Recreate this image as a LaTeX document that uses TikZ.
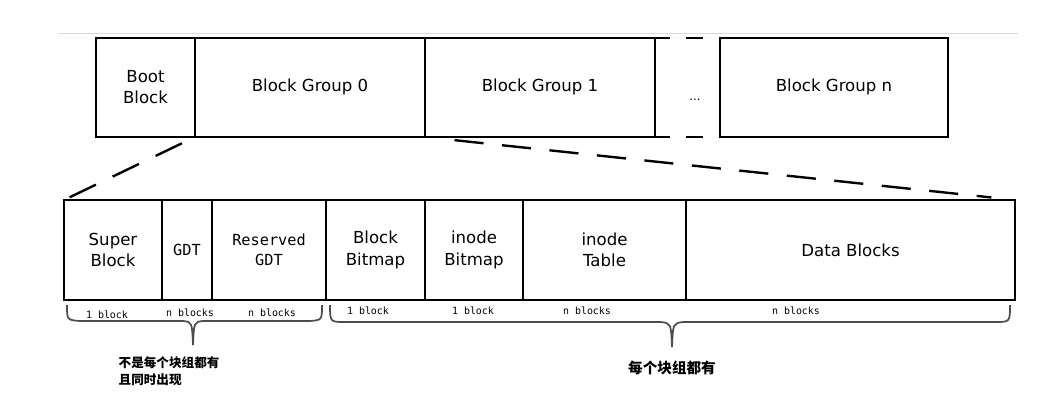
\documentclass[tikz,border=0pt]{standalone}
\usepackage{fontspec}
\usetikzlibrary{calc}
\setmainfont{DejaVu Sans}
\setmonofont{DejaVu Sans Mono}
\newfontfamily\cjk{Noto Sans CJK SC}
\begin{document}
\begin{tikzpicture}[x=0.0265cm,y=-0.0265cm,
  box/.style={draw,line width=1.6pt,minimum height=0} ,
  lbl/.style={font=\fontsize{12.5}{16}\selectfont,align=center},
  sz/.style={font=\ttfamily\fontsize{7.5}{8}\selectfont,anchor=base},
  dsh/.style={line width=1.8pt,dash pattern=on 22pt off 14pt},
  br/.style={line width=1.3pt,draw=black!70}]
\useasboundingbox (0,0) rectangle (1052,401);
\draw[black!15,line width=0.6pt] (58,33) -- (1018,33);
% top row
\foreach \n/\a/\b in {boot/96/195,bg0/195/425,bg1/425/655,bgn/720/948}{
  \draw[box] (\a,38) rectangle (\b,137);
  \coordinate (\n) at ({(\a+\b)/2},87);}
\node[lbl] at (boot) {Boot\\Block};
\node[lbl] at (bg0) {Block Group 0};
\node[lbl] at (bg1) {Block Group 1};
\node[lbl] at (bgn) {Block Group n};
\draw[line width=1.6pt] (655,38) -- (670,38) (655,137) -- (670,137);
\draw[line width=1.6pt] (686,38) -- (703,38) (686,137) -- (703,137);
\node[font=\fontsize{9}{9}\selectfont] (dots) at (695,100) {...};
% bottom row
\foreach \n/\a/\b in {sb/64/162,gdt/162/212,rg/212/326,bb/326/425,ib/425/523,it/523/686,db/686/1015}{
  \draw[box] (\a,200) rectangle (\b,300);
  \coordinate (\n) at ({(\a+\b)/2},250);}
\node[lbl] at (sb) {Super\\Block};
\node[font=\ttfamily\fontsize{11.5}{15}\selectfont,align=center] at (gdt) {GDT};
\node[font=\ttfamily\fontsize{11.5}{15}\selectfont,align=center] at (rg) {Reserved\\GDT};
\node[lbl] at (bb) {Block\\Bitmap};
\node[lbl] at (ib) {inode\\Bitmap};
\node[lbl] at (it) {inode\\Table};
\node[lbl] at (db) {Data Blocks};
% zoom lines
\coordinate (z1) at (195,137); \coordinate (z2) at (64,200);
\coordinate (z3) at (425,137); \coordinate (z4) at (1015,200);
\draw[dsh] ($(z1)!0.1!(z2)$) -- (z2);
\draw[dsh] ($(z3)!0.05!(z4)$) -- ($(z3)!0.96!(z4)$);
% size labels
\node[sz] at (107,318) {1 block};
\node[sz] at (190,316) {n blocks};
\node[sz] at (272,316) {n blocks};
\node[sz] at (368,314) {1 block};
\node[sz] at (473,314) {1 block};
\node[sz] at (587,314) {n blocks};
\node[sz] at (796,314) {n blocks};
% braces
\draw[br] (67,305) .. controls (67,320) .. (80,321) -- (183,321) .. controls (192,322) .. (193,345);
\draw[br] (193,345) .. controls (194,322) .. (203,321) -- (310,321) .. controls (322,320) .. (322,305);
\draw[br] (330,305) .. controls (330,322) .. (345,322) -- (660,322) .. controls (671,323) .. (672,347);
\draw[br] (672,347) .. controls (673,323) .. (684,322) -- (995,322) .. controls (1010,322) .. (1010,305);
\node[font=\cjk\bfseries\fontsize{9.5}{12.5}\selectfont,align=left,anchor=north west] at (114,352) {不是每个块组都有\\且同时出现};
\node[font=\cjk\bfseries\fontsize{11}{12}\selectfont] at (672,368) {每个块组都有};
\end{tikzpicture}
\end{document}
